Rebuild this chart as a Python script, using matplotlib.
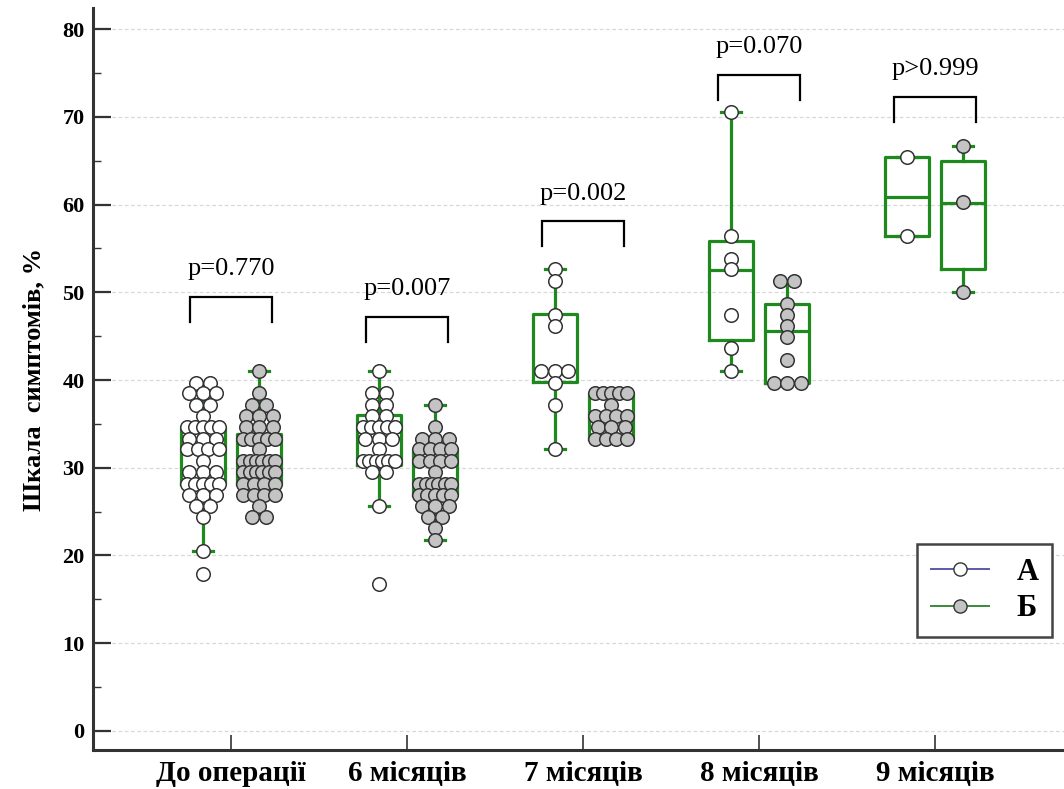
import matplotlib
matplotlib.use('Agg')
import matplotlib.pyplot as plt
from matplotlib.lines import Line2D
import numpy as np

plt.rcParams['font.family'] = ['Liberation Serif', 'DejaVu Serif']

categories = ['До операції', '6 місяців', '7 місяців', '8 місяців', '9 місяців']
series_names = ['А', 'Б']

# individual scores (%), group А
a_pre = [39.7, 39.7, 38.5, 38.5, 38.5, 37.2, 37.2, 35.9, 34.6, 34.6, 34.6, 34.6, 34.6,
         33.3, 33.3, 33.3, 32.1, 32.1, 32.1, 32.1, 30.8, 29.5, 29.5, 29.5,
         28.2, 28.2, 28.2, 28.2, 28.2, 26.9, 26.9, 26.9, 25.6, 25.6, 24.4, 20.5, 17.9]
a_6m = [41.0, 38.5, 38.5, 37.2, 37.2, 35.9, 35.9, 34.6, 34.6, 34.6, 34.6, 34.6,
        33.3, 33.3, 33.3, 32.1, 30.8, 30.8, 30.8, 30.8, 30.8, 30.8, 29.5, 29.5, 25.6, 16.7]
a_7m = [52.6, 51.3, 47.4, 46.2, 41.0, 41.0, 41.0, 39.7, 37.2, 32.1]
a_8m = [70.5, 56.4, 53.8, 52.6, 47.4, 43.6, 41.0]
a_9m = [65.4, 56.4]

# individual scores (%), group Б
b_pre = [41.0, 38.5, 37.2, 37.2, 35.9, 35.9, 35.9, 34.6, 34.6, 34.6,
         33.3, 33.3, 33.3, 33.3, 33.3, 32.1, 30.8, 30.8, 30.8, 30.8, 30.8, 30.8,
         29.5, 29.5, 29.5, 29.5, 29.5, 29.5, 28.2, 28.2, 28.2, 28.2,
         26.9, 26.9, 26.9, 26.9, 25.6, 24.4, 24.4]
b_6m = [37.2, 34.6, 33.3, 33.3, 33.3, 32.1, 32.1, 32.1, 32.1, 30.8, 30.8, 30.8, 30.8,
        29.5, 28.2, 28.2, 28.2, 28.2, 28.2, 28.2, 26.9, 26.9, 26.9, 26.9, 26.9,
        25.6, 25.6, 25.6, 24.4, 24.4, 23.1, 21.8]
b_7m = [38.5, 38.5, 38.5, 38.5, 38.5, 37.2, 35.9, 35.9, 35.9, 35.9,
        34.6, 34.6, 34.6, 33.3, 33.3, 33.3, 33.3]
b_8m = [51.3, 51.3, 48.7, 47.4, 46.2, 44.9, 42.3, 39.7, 39.7, 39.7]
b_9m = [66.7, 60.3, 50.0]

group_a = [a_pre, a_6m, a_7m, a_8m, a_9m]
group_b = [b_pre, b_6m, b_7m, b_8m, b_9m]

# box-plot statistics
a_whislo = [20.5, 25.6, 32.1, 41.0, 56.4]
a_q1 = [28.1, 30.3, 39.8, 44.6, 56.4]
a_med = [32.1, 33.4, 41.0, 52.5, 60.9]
a_q3 = [34.7, 36.0, 47.5, 55.8, 65.4]
a_whishi = [39.7, 41.0, 52.6, 70.5, 65.4]

b_whislo = [24.4, 21.8, 33.3, 39.7, 50.0]
b_q1 = [28.1, 26.9, 33.3, 39.7, 52.6]
b_med = [30.9, 28.2, 36.0, 45.6, 60.2]
b_q3 = [33.8, 32.1, 38.5, 48.7, 65.0]
b_whishi = [41.0, 37.2, 38.5, 51.3, 66.7]

p_labels = ['p=0.770', 'p=0.007', 'p=0.002', 'p=0.070', 'p>0.999']
bracket_y = [49.5, 47.2, 58.1, 74.8, 72.3]

GREEN = '#1e8a1e'
EDGE = '#333333'

fig = plt.figure(figsize=(10.64, 7.89), dpi=100)
ax = fig.add_axes([93/1064, 39/789, 971/1064, 742/789])

x = np.arange(len(categories))
off = 0.16
box_w = 0.25
dot_w = 0.076
max_span = 0.18


def row_offsets(values):
    vals = np.asarray(values)
    offs = np.zeros(len(vals))
    for v in np.unique(vals):
        idx = np.where(vals == v)[0]
        n = len(idx)
        if n > 1:
            step = min(dot_w, max_span / (n - 1))
            offs[idx] = (np.arange(n) - (n - 1) / 2) * step
    return offs


def stats(lo, q1, med, q3, hi):
    return [dict(whislo=a, q1=b, med=c, q3=d, whishi=e, fliers=[])
            for a, b, c, d, e in zip(lo, q1, med, q3, hi)]


props = dict(color=GREEN, linewidth=2.3)
for st, pos in [(stats(a_whislo, a_q1, a_med, a_q3, a_whishi), x - off),
                (stats(b_whislo, b_q1, b_med, b_q3, b_whishi), x + off)]:
    ax.bxp(st, positions=pos, widths=box_w, capwidths=0.11, showfliers=False,
           boxprops=props, medianprops=props, whiskerprops=props, capprops=props,
           manage_ticks=False, zorder=2)

for i in range(len(categories)):
    for vals, pos, fc in [(group_a[i], x[i] - off, 'white'), (group_b[i], x[i] + off, '#c4c4c4')]:
        xo = pos + row_offsets(vals)
        ax.scatter(xo, vals, s=95, facecolor=fc, edgecolor=EDGE, linewidth=1.1, zorder=3)

# brackets with p-values
for i, (lab, yb) in enumerate(zip(p_labels, bracket_y)):
    xl, xr = x[i] - 0.235, x[i] + 0.235
    ax.plot([xl, xl, xr, xr], [yb - 2.85, yb, yb, yb - 2.85], color='black', lw=1.6,
            solid_joinstyle='miter', zorder=2)
    ax.text(x[i], yb + 1.9, lab, ha='center', va='bottom', fontsize=19)

ax.set_xlim(-0.784, 4.733)
ax.set_ylim(-2.17, 82.4)
ax.set_yticks(np.arange(0, 81, 10))
ax.set_yticks(np.arange(5, 80, 10), minor=True)
ax.set_xticks(x)
ax.set_xticklabels(categories, fontsize=21, fontweight='bold')
for t in ax.get_yticklabels():
    t.set_fontsize(16)
    t.set_fontweight('bold')
ax.tick_params(axis='y', which='major', direction='in', length=13, width=1.6, color=EDGE, pad=6)
ax.tick_params(axis='y', which='minor', direction='in', length=6, width=1.0, color=EDGE)
ax.tick_params(axis='x', which='major', direction='in', length=11, width=1.2, color=EDGE, pad=7)

for s in ['top', 'right']:
    ax.spines[s].set_visible(False)
for s in ['left', 'bottom']:
    ax.spines[s].set_color(EDGE)
    ax.spines[s].set_linewidth(2.2)

ax.yaxis.grid(True, which='major', color='#d8d8d8', linestyle=(0, (3, 2)), linewidth=0.9)
ax.set_axisbelow(True)

ax.set_ylabel('Шкала  симптомів, %', fontsize=19, fontweight='bold', labelpad=12)

handles = [Line2D([], [], color='#5a5aa8', lw=1.4, marker='o', markersize=9.5,
                  markerfacecolor='white', markeredgecolor=EDGE),
           Line2D([], [], color='#3a8a3a', lw=1.4, marker='o', markersize=9.5,
                  markerfacecolor='#c4c4c4', markeredgecolor=EDGE)]
leg = ax.legend(handles, series_names, loc='lower left', bbox_to_anchor=(0.849, 0.152),
                frameon=True, fancybox=False, framealpha=1, edgecolor='#444444',
                prop={'family': 'Liberation Serif', 'weight': 'bold', 'size': 22},
                handlelength=1.9, borderpad=0.45, labelspacing=0.25, handletextpad=0.9,
                borderaxespad=0)
leg.get_frame().set_linewidth(1.8)

fig.savefig('out.png', dpi=100)
